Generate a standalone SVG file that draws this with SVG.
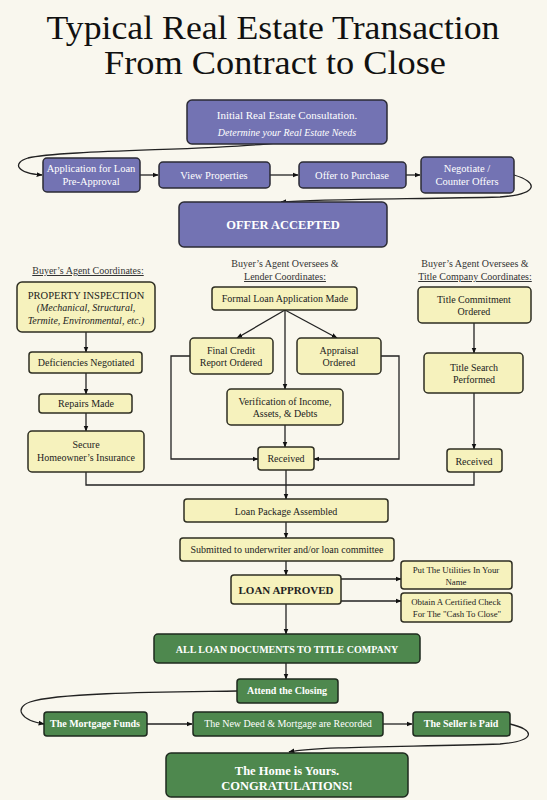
<svg xmlns="http://www.w3.org/2000/svg" width="547" height="800" viewBox="0 0 547 800">
<defs>
<marker id="ah" viewBox="0 0 10 10" refX="9" refY="5" markerWidth="6" markerHeight="6" orient="auto" markerUnits="userSpaceOnUse">
<path d="M0,1 L10,5 L0,9 z" fill="#111"/>
</marker>
<style>
text{font-family:"Liberation Serif","Times New Roman",serif;text-anchor:middle}
.p rect{fill:#7373b3;stroke:#2b2b35;stroke-width:1.5}
.y rect{fill:#f6f2bd;stroke:#2e2e22;stroke-width:1.5}
.g rect{fill:#4e884e;stroke:#1e2a1e;stroke-width:1.5}
.p text{fill:#fff;font-size:10.5px}
.y text{fill:#222;font-size:10px}
.g text{fill:#fff;font-size:10px;font-weight:bold}
.hd{fill:#333;font-size:10px}
.ul{text-decoration:underline}
.ttl{font-family:"Liberation Serif","Times New Roman",serif;font-size:33px;fill:#111}
#conn path{fill:none;stroke:#222;stroke-width:1.3}
</style>
</defs>
<rect width="547" height="800" fill="#f9f7ee"/>
<g id="title">
<text class="ttl" x="273" y="39" textLength="453" lengthAdjust="spacingAndGlyphs">Typical Real Estate Transaction</text>
<text class="ttl" x="275" y="74" textLength="342" lengthAdjust="spacingAndGlyphs">From Contract to Close</text>
</g>
<g id="headers">
<text class="hd ul" x="88" y="274">Buyer’s Agent Coordinates:</text>
<text class="hd" x="285" y="267">Buyer’s Agent Oversees &amp;</text>
<text class="hd ul" x="285" y="280">Lender Coordinates:</text>
<text class="hd" x="475" y="267">Buyer’s Agent Oversees &amp;</text>
<text class="hd ul" x="475" y="280">Title Company Coordinates:</text>
</g>
<g id="conn">
<path d="M275,143 C220,150 60,150 28,158 C12,163 16,173 42,175" marker-end="url(#ah)"/>
<path d="M140,175 H158" marker-end="url(#ah)"/>
<path d="M270,175 H298" marker-end="url(#ah)"/>
<path d="M406,175 H420" marker-end="url(#ah)"/>
<path d="M514,175 C538,182 540,194 500,197 C420,199 320,199 281,202" marker-end="url(#ah)"/>
<path d="M86,332 V352" marker-end="url(#ah)"/>
<path d="M86,373 V394" marker-end="url(#ah)"/>
<path d="M86,413 V431" marker-end="url(#ah)"/>
<path d="M285,310 L237,338" marker-end="url(#ah)"/>
<path d="M285,310 L337,338" marker-end="url(#ah)"/>
<path d="M285,310 V389" marker-end="url(#ah)"/>
<path d="M285,425 V447" marker-end="url(#ah)"/>
<path d="M190,356 H171 V459 H258" marker-end="url(#ah)"/>
<path d="M381,356 H399 V459 H314" marker-end="url(#ah)"/>
<path d="M474,323 V353" marker-end="url(#ah)"/>
<path d="M474,393 V449" marker-end="url(#ah)"/>
<path d="M86,472 V485 H474 V472"/>
<path d="M286,470 V499" marker-end="url(#ah)"/>
<path d="M286,522 V538" marker-end="url(#ah)"/>
<path d="M286,561 V575" marker-end="url(#ah)"/>
<path d="M341,579 H401" marker-end="url(#ah)"/>
<path d="M341,601 H401" marker-end="url(#ah)"/>
<path d="M286,604 V634" marker-end="url(#ah)"/>
<path d="M286,663 V679" marker-end="url(#ah)"/>
<path d="M237,691 C180,692 60,692 30,702 C14,708 20,720 44,724" marker-end="url(#ah)"/>
<path d="M147,724 H192" marker-end="url(#ah)"/>
<path d="M383,724 H412" marker-end="url(#ah)"/>
<path d="M510,724 C536,730 536,741 500,744 C420,747 320,746 289,752" marker-end="url(#ah)"/>
</g>
<g id="n-initial" class="p"><rect x="187" y="100" width="200" height="44" rx="5"/>
<text x="287" y="119" style="font-size:11px">Initial Real Estate Consultation.</text>
<text x="287" y="136" style="font-style:italic;font-size:10px">Determine your Real Estate Needs</text></g>
<g id="n-app" class="p"><rect x="43" y="158" width="97" height="34" rx="4"/>
<text x="91" y="172">Application for Loan</text><text x="91" y="185">Pre-Approval</text></g>
<g id="n-view" class="p"><rect x="159" y="162" width="111" height="26" rx="4"/>
<text x="214" y="179">View Properties</text></g>
<g id="n-offer" class="p"><rect x="299" y="162" width="107" height="26" rx="4"/>
<text x="352" y="179">Offer to Purchase</text></g>
<g id="n-neg" class="p"><rect x="421" y="157" width="93" height="36" rx="4"/>
<text x="467" y="172">Negotiate /</text><text x="467" y="185">Counter Offers</text></g>
<g id="n-accepted" class="p"><rect x="179" y="202" width="208" height="45" rx="5"/>
<text x="283" y="229" style="font-weight:bold;font-size:12.5px">OFFER ACCEPTED</text></g>
<g id="n-insp" class="y"><rect x="17" y="282" width="138" height="50" rx="5"/>
<text x="86" y="299" style="font-size:10.5px">PROPERTY INSPECTION</text>
<text x="86" y="311" style="font-style:italic">(Mechanical, Structural,</text>
<text x="86" y="324" style="font-style:italic">Termite, Environmental, etc.)</text></g>
<g id="n-def" class="y"><rect x="29" y="352" width="113" height="21" rx="3"/>
<text x="86" y="366">Deficiencies Negotiated</text></g>
<g id="n-rep" class="y"><rect x="39" y="394" width="93" height="19" rx="3"/>
<text x="86" y="407">Repairs Made</text></g>
<g id="n-ins" class="y"><rect x="28" y="431" width="116" height="41" rx="4"/>
<text x="86" y="448">Secure</text><text x="86" y="461">Homeowner’s Insurance</text></g>
<g id="n-formal" class="y"><rect x="212" y="287" width="145" height="23" rx="3"/>
<text x="285" y="302">Formal Loan Application Made</text></g>
<g id="n-credit" class="y"><rect x="190" y="338" width="83" height="36" rx="4"/>
<text x="231" y="353.5">Final Credit</text><text x="231" y="365.5">Report Ordered</text></g>
<g id="n-appr" class="y"><rect x="297" y="338" width="84" height="36" rx="4"/>
<text x="339" y="353.5">Appraisal</text><text x="339" y="365.5">Ordered</text></g>
<g id="n-verif" class="y"><rect x="227" y="389" width="116" height="36" rx="4"/>
<text x="285" y="405">Verification of Income,</text><text x="285" y="417">Assets, &amp; Debts</text></g>
<g id="n-rec1" class="y"><rect x="258" y="447" width="56" height="23" rx="3"/>
<text x="286" y="462">Received</text></g>
<g id="n-tcomm" class="y"><rect x="418" y="287" width="113" height="36" rx="4"/>
<text x="474" y="302.5">Title Commitment</text><text x="474" y="315">Ordered</text></g>
<g id="n-tsearch" class="y"><rect x="424" y="353" width="99" height="40" rx="4"/>
<text x="474" y="370.5">Title Search</text><text x="474" y="382.5">Performed</text></g>
<g id="n-rec2" class="y"><rect x="447" y="449" width="55" height="23" rx="3"/>
<text x="474" y="464.5">Received</text></g>
<g id="n-pkg" class="y"><rect x="184" y="499" width="204" height="23" rx="3"/>
<text x="286" y="514.5">Loan Package Assembled</text></g>
<g id="n-sub" class="y"><rect x="180" y="538" width="214" height="23" rx="3"/>
<text x="287" y="553">Submitted to underwriter and/or loan committee</text></g>
<g id="n-approved" class="y"><rect x="231" y="575" width="110" height="29" rx="3"/>
<text x="286" y="594" style="font-weight:bold;font-size:11px">LOAN APPROVED</text></g>
<g id="n-util" class="y"><rect x="401" y="561" width="111" height="28" rx="3"/>
<text x="456" y="572.5" style="font-size:8.8px">Put The Utilities In Your</text><text x="456" y="584.5" style="font-size:8.8px">Name</text></g>
<g id="n-check" class="y"><rect x="401" y="593" width="111" height="29" rx="3"/>
<text x="456" y="605" style="font-size:8.8px">Obtain A Certified Check</text><text x="457" y="617" style="font-size:8.8px">For The "Cash To Close"</text></g>
<g id="n-docs" class="g"><rect x="154" y="634" width="266" height="29" rx="4"/>
<text x="287" y="652.5">ALL LOAN DOCUMENTS TO TITLE COMPANY</text></g>
<g id="n-attend" class="g"><rect x="237" y="679" width="101" height="24" rx="3"/>
<text x="287" y="694">Attend the Closing</text></g>
<g id="n-funds" class="g"><rect x="44" y="712" width="103" height="24" rx="3"/>
<text x="95" y="727">The Mortgage Funds</text></g>
<g id="n-deed" class="g"><rect x="193" y="712" width="190" height="24" rx="3"/>
<text x="288" y="727" style="font-weight:normal">The New Deed &amp; Mortgage are Recorded</text></g>
<g id="n-seller" class="g"><rect x="413" y="712" width="97" height="24" rx="3"/>
<text x="461" y="727">The Seller is Paid</text></g>
<g id="n-home" class="g"><rect x="166" y="753" width="242" height="44" rx="5"/>
<text x="287" y="775" style="font-size:12.5px">The Home is Yours.</text>
<text x="287" y="790" style="font-size:12.5px">CONGRATULATIONS!</text></g>
</svg>
